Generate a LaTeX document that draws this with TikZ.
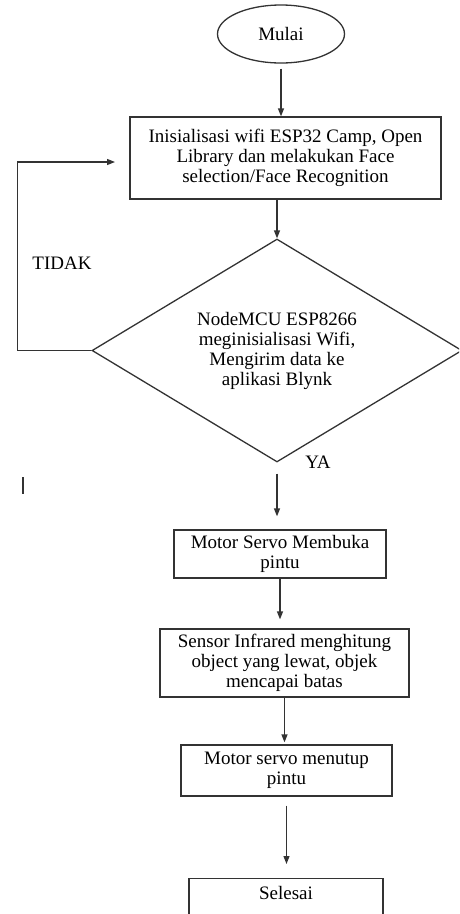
\documentclass[tikz,border=0pt]{standalone}
\usepackage{fontspec}
\setmainfont{Liberation Serif}
\usetikzlibrary{arrows.meta,positioning,calc,shapes.geometric}

\begin{document}
\begin{tikzpicture}[
  x=1pt, y=-1pt,
  font=\fontsize{19}{20}\selectfont,
  stepbox/.style={rectangle, draw=black!80, line width=1.3pt,
                  align=center, inner sep=2pt},
  startend/.style={ellipse, draw=black!80, line width=1.3pt,
                   minimum width=127pt, minimum height=58pt},
  decision/.style={diamond, draw=black!80, line width=1.3pt, align=center,
                   aspect=1.65, minimum width=370pt, minimum height=223pt, inner sep=0pt},
  flow/.style={-{Triangle[width=6pt,length=8pt]}, draw=black!80, line width=1.3pt}
]
  \useasboundingbox (0,0) rectangle (459,914);
  \clip (0,0) rectangle (459,914);

  \node[startend] (mulai) at (281,34) {Mulai};
  \node[stepbox, minimum width=311pt, minimum height=82pt] (init) at (285.5,158)
    {Inisialisasi wifi ESP32 Camp, Open\\Library dan melakukan Face\\selection/Face Recognition};
  \node[decision] (cek) at (277,350.5)
    {NodeMCU ESP8266\\meginisialisasi Wifi,\\Mengirim data ke\\aplikasi Blynk};
  \node[stepbox, minimum width=212pt, minimum height=48pt] (buka) at (280,554)
    {Motor Servo Membuka\\pintu};
  \node[stepbox, minimum width=249pt, minimum height=68pt] (sensor) at (284.5,663)
    {Sensor Infrared menghitung\\object yang lewat, objek\\mencapai batas};
  \node[stepbox, minimum width=211pt, minimum height=51pt] (tutup) at (286.5,770.5)
    {Motor servo menutup\\pintu};
  \node[stepbox, minimum width=194pt, text height=19pt, text depth=40pt, anchor=north] (selesai) at (286,878)
    {Selesai};

  \node (tidak) at (62,263) {TIDAK};
  \node (ya) at (318,462) {YA};
  \coordinate (balik) at (115,162);

  \draw[flow, shorten <=5pt] (mulai.south) -- (mulai.south |- init.north);
  \draw[flow] (cek.north |- init.south) -- (cek.north);
  \draw[flow] (cek.west) -- ++(-74,0) |- (balik);
  \draw[flow, shorten <=11pt, shorten >=13pt] (cek.south) -- (cek.south |- buka.north);
  \draw[flow, shorten >=9pt] (buka.south) -- (buka.south |- sensor.north);
  \draw[flow, shorten >=2pt] (sensor.south) -- (sensor.south |- tutup.north);
  \draw[flow, shorten <=9pt, shorten >=14pt] (tutup.south) -- (tutup.south |- selesai.north);

  % stray mark on the left
  \draw[black!80, line width=1.3pt] (23,477) -- (23,494);
\end{tikzpicture}
\end{document}
